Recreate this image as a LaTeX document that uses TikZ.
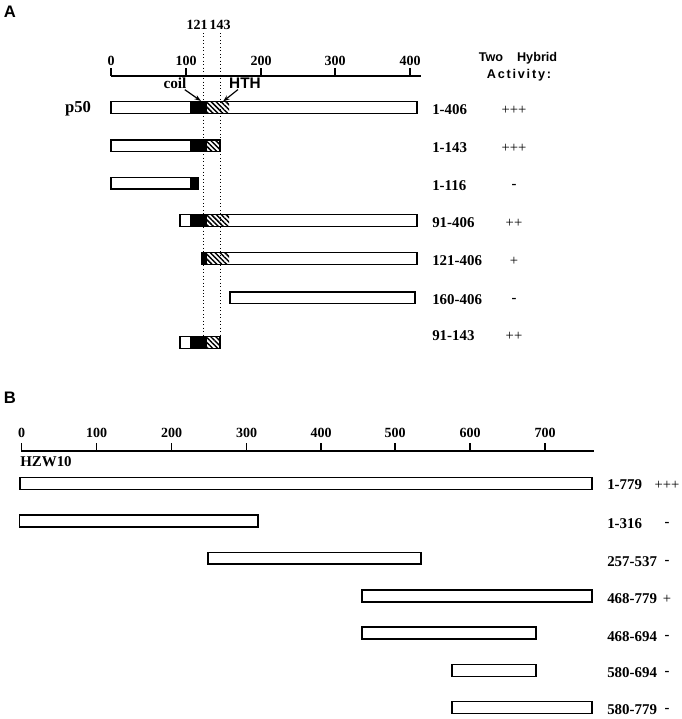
\documentclass[tikz,border=0pt]{standalone}
\usepackage{fontspec}
\setmainfont{Liberation Serif}
\setsansfont{Liberation Sans}
\usetikzlibrary{patterns.meta,arrows.meta}
\begin{document}
\begin{tikzpicture}[x=0.75pt,y=-0.75pt,
  bar/.style={draw=black,line width=1.1pt},
  hatch/.style={pattern={Lines[angle=-45,distance=2.6pt,line width=1.1pt]}},
  num/.style={font=\fontsize{10.5}{12}\selectfont\bfseries,inner sep=0pt},
  rng/.style={font=\fontsize{11.2}{13}\selectfont\bfseries,inner sep=0pt,anchor=west},
  act/.style={font=\fontsize{11}{13}\selectfont,inner sep=0pt},
  hdr/.style={font=\fontsize{9.5}{11}\selectfont\sffamily\bfseries,inner sep=0pt},
  panel/.style={font=\fontsize{12.5}{15}\selectfont\sffamily\bfseries,inner sep=0pt},
  arr/.style={-{Stealth[length=5pt,width=3.5pt]},line width=0.9pt}]
\useasboundingbox (0,0) rectangle (682,719);
% panel A
\node[panel] (pA) at (10,12) {A};
\draw[line width=0.9pt] (111,76) -- (421,76);
\foreach \x/\t [count=\i] in {111/0,186/100,261/200,335/300,410/400}{
  \draw[line width=0.9pt] (\x,68) -- (\x,76);
  \node[num] (ta\i) at (\x,61) {\t};}
\node[num] (m121) at (197,25) {121};\node[num] (m143) at (220,25) {143};
\coordinate (d1t) at (203,33);\coordinate (d1b) at (203,349);
\coordinate (d2t) at (220.5,33);\coordinate (d2b) at (220.5,349);
\draw[dotted,line width=0.6pt] (d1t)--(d1b) (d2t)--(d2b);
\node[hdr] (two) at (518,58) {Two\hspace{1.1em}Hybrid};
\node[hdr] (actv) at (519,75) {\addfontfeature{LetterSpace=14}Activity:};
\node[font=\fontsize{12.5}{15}\selectfont\bfseries,inner sep=0pt] (p50) at (78,109) {p50};
\foreach \yb/\xl/\xk/\xh/\xw/\xr/\yl/\rg/\ac [count=\i] in {
  107.5/111/190/207/229/417/110/1-406/+++,
  145.8/111/190/207/220/220/148/1-143/+++,
  183.3/111/190/198/198/198/186/1-116/\textbf{-},
  220.5/180/190/207/229/417/223/91-406/++,
  258.5/202/202/207/229/417/261/121-406/+,
  297.8/230/230/230/230/415/300/160-406/\textbf{-},
  342.5/180/190/207/220/220/336/91-143/++}{
  \fill[black] (\xk,\yb-5.8) rectangle (\xh,\yb+5.8);
  \fill[hatch] (\xh,\yb-5.8) rectangle (\xw,\yb+5.8);
  \draw[bar] (\xl,\yb-5.8) rectangle (\xr,\yb+5.8);
  \node[rng] (ra\i) at (432,\yl) {\rg};
  \node[act] (sa\i) at (514,\yl) {\ac};}
\node[font=\fontsize{11.5}{13}\selectfont\bfseries,inner sep=0pt] (coil) at (175,83) {coil};
\node[font=\fontsize{11.5}{13}\selectfont\sffamily\bfseries,inner sep=0pt] (hth) at (245,83) {HTH};
\coordinate (cp) at (201,101);\coordinate (hp) at (223,101.5);
\draw[arr] (coil.south east) ++(-2,1) -- (cp);
\draw[arr] (hth.south west) ++(9,1) -- (hp);
% panel B
\node[panel] (pB) at (10,398) {B};
\draw[line width=0.9pt] (21,451) -- (594,451);
\foreach \x/\t [count=\i] in {21.5/0,96.7/100,171.7/200,246.7/300,321/400,395/500,470/600,545/700}{
  \draw[line width=0.9pt] (\x,443) -- (\x,451);
  \node[num] (tb\i) at (\x,433) {\t};}
\node[rng] (hzw) at (20,462) {HZW10};
\foreach \yb/\xl/\xr/\yl/\rg/\ac [count=\i] in {
  483.5/20/592/485/1-779/+++,
  521/19.5/258/524/1-316/\textbf{-},
  558.3/208/421/562/257-537/\textbf{-},
  596/362/592/599/468-779/+,
  633/362/536/637/468-694/\textbf{-},
  670.5/452/536/673/580-694/\textbf{-},
  707.5/452/592/710/580-779/\textbf{-}}{
  \draw[bar] (\xl,\yb-5.8) rectangle (\xr,\yb+5.8);
  \node[rng] (rb\i) at (607,\yl) {\rg};
  \node[act] (sb\i) at (667,\yl) {\ac};}
\end{tikzpicture}
\end{document}
